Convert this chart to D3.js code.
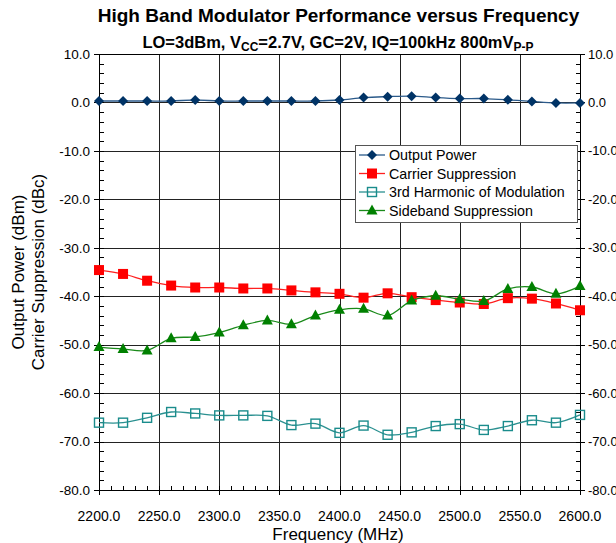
<!DOCTYPE html>
<html>
<head>
<meta charset="utf-8">
<script src="https://cdn.jsdelivr.net/npm/d3@7"></script>
<style>
  html, body { margin: 0; padding: 0; background: #fff; }
  svg { display: block; font-family: "Liberation Sans", Arial, Helvetica, sans-serif; }
</style>
</head>
<body>
<svg id="chart" width="616" height="543"></svg>
<script>
// Frequency points (MHz)
const frequencies = [2200, 2220, 2240, 2260, 2280, 2300, 2320, 2340, 2360, 2380, 2400,
                     2420, 2440, 2460, 2480, 2500, 2520, 2540, 2560, 2580, 2600];

// Measured series
const outputPower = [0.3, 0.3, 0.3, 0.3, 0.5, 0.3, 0.3, 0.3, 0.3, 0.3, 0.5,
                     1.0, 1.2, 1.3, 1.0, 0.8, 0.8, 0.55, 0.2, -0.1, -0.1];
const carrierSuppression = [-34.6, -35.4, -36.8, -37.8, -38.2, -38.2, -38.4, -38.4, -38.8, -39.2, -39.5,
                            -40.3, -39.4, -40.2, -40.8, -41.3, -41.6, -40.4, -40.5, -41.5, -42.9];
const thirdHarmonic = [-66.1, -66.1, -65.1, -63.9, -64.2, -64.6, -64.6, -64.7, -66.6, -66.3, -68.2,
                       -66.7, -68.6, -68.1, -66.8, -66.4, -67.6, -66.8, -65.6, -66.1, -64.5];
const sidebandSuppression = [-50.5, -50.9, -51.2, -48.7, -48.4, -47.5, -46.0, -45.0, -45.8, -44.0, -42.8,
                             -42.6, -44.0, -40.9, -39.9, -40.6, -41.0, -38.5, -38.1, -39.5, -37.9];

// Axis ticks
const xTicks = [2200, 2250, 2300, 2350, 2400, 2450, 2500, 2550, 2600];
const yTicks = [10, 0, -10, -20, -30, -40, -50, -60, -70, -80];

const seriesNames = ["Output Power", "Carrier Suppression", "3rd Harmonic of Modulation", "Sideband Suppression"];

const svg = d3.select("#chart");
const pL = 99, pR = 580, pT = 54, pB = 490;

const x = d3.scaleLinear().domain([2200, 2600]).range([pL, pR]);
const y = d3.scaleLinear().domain([-80, 10]).range([pB, pT]);
const px = v => Math.round(v) + 0.5;

// Gridlines
const grid = svg.append("g").attr("shape-rendering", "crispEdges");
grid.selectAll("line.v").data(xTicks.slice(1, -1)).join("line")
  .attr("x1", d => px(x(d))).attr("x2", d => px(x(d)))
  .attr("y1", pT).attr("y2", pB)
  .attr("stroke", "#222").attr("stroke-width", 1);
grid.selectAll("line.h").data(yTicks.slice(0, -1)).join("line")
  .attr("y1", d => px(y(d))).attr("y2", d => px(y(d)))
  .attr("x1", pL).attr("x2", pR)
  .attr("stroke", "#222").attr("stroke-width", 1);

// Left axis
const yMinor = d3.range(-80, 10.001, 2);
const axL = svg.append("g").attr("shape-rendering", "crispEdges");
axL.append("line").attr("x1", pL + 0.5).attr("x2", pL + 0.5).attr("y1", pT).attr("y2", pB)
  .attr("stroke", "#000").attr("stroke-width", 1.5);
axL.selectAll("line.minor").data(yMinor).join("line")
  .attr("x1", pL).attr("x2", pL + 5)
  .attr("y1", d => px(y(d))).attr("y2", d => px(y(d)))
  .attr("stroke", "#000");
axL.selectAll("line.major").data(yTicks).join("line")
  .attr("x1", pL - 5).attr("x2", pL)
  .attr("y1", d => px(y(d))).attr("y2", d => px(y(d)))
  .attr("stroke", "#000");
svg.append("g").selectAll("text").data(yTicks).join("text")
  .attr("x", pL - 9).attr("y", d => y(d)).attr("dy", "0.35em")
  .attr("text-anchor", "end").attr("font-size", 13.5).attr("fill", "#000")
  .text(d => d.toFixed(1));

// Right axis
const axR = svg.append("g").attr("shape-rendering", "crispEdges");
axR.append("line").attr("x1", pR + 0.5).attr("x2", pR + 0.5).attr("y1", pT).attr("y2", pB)
  .attr("stroke", "#000").attr("stroke-width", 1.5);
axR.selectAll("line.minor").data(yMinor).join("line")
  .attr("x1", pR - 4).attr("x2", pR)
  .attr("y1", d => px(y(d))).attr("y2", d => px(y(d)))
  .attr("stroke", "#000");
axR.selectAll("line.major").data(yTicks).join("line")
  .attr("x1", pR).attr("x2", pR + 5)
  .attr("y1", d => px(y(d))).attr("y2", d => px(y(d)))
  .attr("stroke", "#000");
svg.append("g").selectAll("text").data(yTicks).join("text")
  .attr("x", pR + 8).attr("y", d => y(d)).attr("dy", "0.35em")
  .attr("text-anchor", "start").attr("font-size", 13).attr("fill", "#000")
  .text(d => d.toFixed(1));

// Bottom axis
const xMinor = d3.range(2200, 2600.001, 10);
const axB = svg.append("g").attr("shape-rendering", "crispEdges");
axB.append("line").attr("x1", pL).attr("x2", pR).attr("y1", pB + 0.5).attr("y2", pB + 0.5)
  .attr("stroke", "#000").attr("stroke-width", 1.5);
axB.selectAll("line.minor").data(xMinor).join("line")
  .attr("x1", d => px(x(d))).attr("x2", d => px(x(d)))
  .attr("y1", pB - 4).attr("y2", pB)
  .attr("stroke", "#000");
axB.selectAll("line.major").data(xTicks).join("line")
  .attr("x1", d => px(x(d))).attr("x2", d => px(x(d)))
  .attr("y1", pB).attr("y2", pB + 5)
  .attr("stroke", "#000");
svg.append("g").selectAll("text").data(xTicks).join("text")
  .attr("x", d => x(d)).attr("y", 516).attr("dy", "0.35em")
  .attr("text-anchor", "middle").attr("font-size", 14).attr("fill", "#000")
  .text(d => d.toFixed(1));

// Top border
svg.append("line").attr("x1", pL).attr("x2", pR).attr("y1", pT + 0.5).attr("y2", pT + 0.5)
  .attr("stroke", "#000").attr("shape-rendering", "crispEdges");

// Titles
svg.append("text").attr("x", 338.5).attr("y", 22).attr("text-anchor", "middle")
  .attr("font-size", 19).attr("font-weight", "bold")
  .text("High Band Modulator Performance versus Frequency");
const sub = svg.append("text").attr("x", 338).attr("y", 48).attr("text-anchor", "middle")
  .attr("font-size", 16.5).attr("font-weight", "bold");
sub.append("tspan").text("LO=3dBm, V");
sub.append("tspan").attr("font-size", 12).attr("dy", 3).text("CC");
sub.append("tspan").attr("dy", -3).text("=2.7V, GC=2V, IQ=100kHz 800mV");
sub.append("tspan").attr("font-size", 12).attr("dy", 3).text("P-P");

svg.append("text").attr("x", 338).attr("y", 540).attr("text-anchor", "middle")
  .attr("font-size", 17).text("Frequency (MHz)");
svg.append("text").attr("transform", "translate(24,272) rotate(-90)").attr("text-anchor", "middle")
  .attr("font-size", 17).text("Output Power (dBm)");
svg.append("text").attr("transform", "translate(44,272) rotate(-90)").attr("text-anchor", "middle")
  .attr("font-size", 17).text("Carrier Suppression (dBc)");

// Series drawing
const curve = d3.curveCatmullRom.alpha(0.5);
const series = [
  { name: seriesNames[0], values: outputPower, color: "#003366", lineColor: "#2b5a8a", shape: "diamond" },
  { name: seriesNames[1], values: carrierSuppression, color: "#ff0000", lineColor: "#ff2020", shape: "square" },
  { name: seriesNames[2], values: thirdHarmonic, color: "#1a8c8c", lineColor: "#2a9090", shape: "open" },
  { name: seriesNames[3], values: sidebandSuppression, color: "#008000", lineColor: "#1a8a1a", shape: "triangle" }
];

function marker(sel, s, cx, cy) {
  if (s.shape === "diamond") {
    sel.append("path").attr("d", `M${cx},${cy - 5}L${cx + 5},${cy}L${cx},${cy + 5}L${cx - 5},${cy}Z`)
      .attr("fill", s.color);
  } else if (s.shape === "square") {
    sel.append("rect").attr("x", cx - 5).attr("y", cy - 5).attr("width", 10).attr("height", 10)
      .attr("fill", s.color);
  } else if (s.shape === "open") {
    sel.append("rect").attr("x", cx - 4.5).attr("y", cy - 4.5).attr("width", 9).attr("height", 9)
      .attr("fill", "none").attr("stroke", s.color).attr("stroke-width", 1.4);
  } else {
    sel.append("path").attr("d", `M${cx},${cy - 6}L${cx + 5.5},${cy + 4}L${cx - 5.5},${cy + 4}Z`)
      .attr("fill", s.color);
  }
}

const plot = svg.append("g");
series.forEach(s => {
  const pts = frequencies.map((f, i) => [x(f), y(s.values[i])]);
  plot.append("path").attr("d", d3.line().curve(curve)(pts))
    .attr("fill", "none").attr("stroke", s.lineColor).attr("stroke-width", 1.3);
  const g = plot.append("g");
  pts.forEach(p => marker(g, s, p[0], p[1]));
});

// Legend
const lg = svg.append("g");
lg.append("rect").attr("x", 355.5).attr("y", 145.5).attr("width", 222).attr("height", 77)
  .attr("fill", "#fff").attr("stroke", "#555").attr("stroke-width", 1).attr("shape-rendering", "crispEdges");
series.forEach((s, i) => {
  const cy = 155 + i * 18.5;
  lg.append("line").attr("x1", 359).attr("x2", 385).attr("y1", cy).attr("y2", cy)
    .attr("stroke", s.lineColor).attr("stroke-width", 1.3);
  marker(lg, s, 372, cy);
  lg.append("text").attr("x", 389).attr("y", cy).attr("dy", "0.35em")
    .attr("font-size", 14.3).attr("fill", "#000").text(s.name);
});
</script>
</body>
</html>
